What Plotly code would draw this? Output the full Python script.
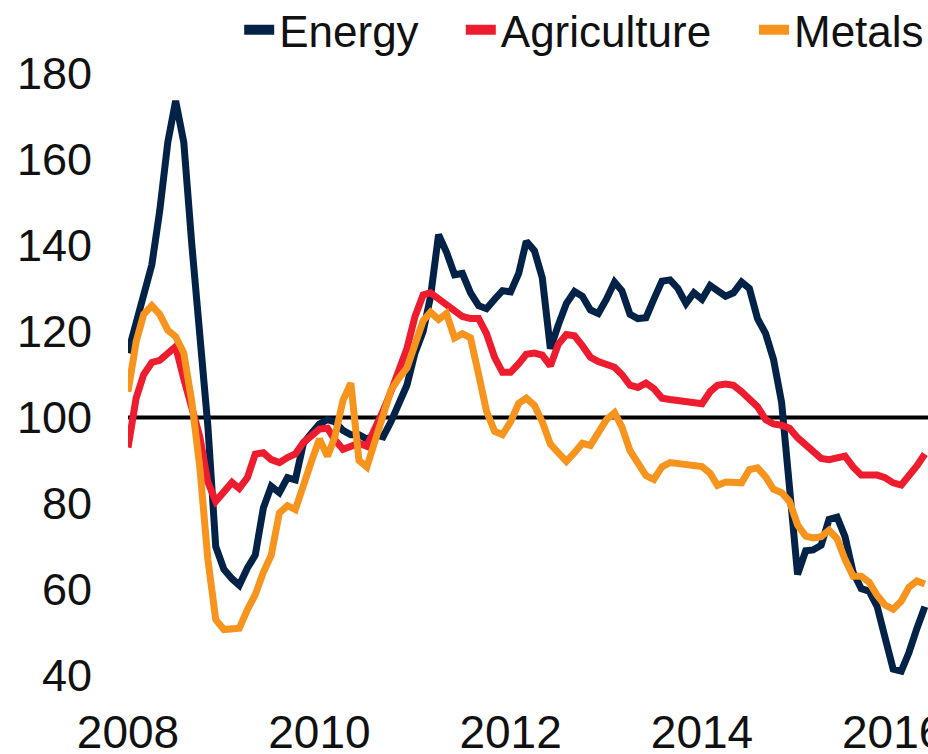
import pandas as pd
import plotly.graph_objects as go

# ---- data (monthly index, Jan 2008 = 100 baseline line) ----
start_month = "2008-01-01"
energy = [115, 122, 129.5, 135.5, 148, 164, 173.6, 164, 140, 121,
          98, 70, 64.7, 62.5, 61, 65, 68, 79, 84, 82.5,
          86, 85.5, 94, 96.3, 98.5, 99.5, 99, 97, 96, 96,
          95, 96, 95.5, 99, 103.5, 107.5, 115, 120, 128, 142.5,
          138.5, 133.2, 133.5, 129, 126, 125.3, 127.5, 129.5, 129.2, 133.5,
          141, 138.8, 132.5, 116, 121.5, 126.5, 129.3, 128.2, 125, 124.2,
          127.5, 131.5, 129.5, 124, 123, 123.2, 127.5, 131.7, 132, 130,
          126.5, 129, 127.5, 130.7, 129.5, 128.2, 129, 131.5, 130, 123,
          119.5, 113.5, 103.5, 85, 63.5, 69, 69.2, 70.3, 76.3, 76.8,
          72.3, 64, 60.2, 59.6, 56, 48.8, 41.5, 41, 45.3, 51, 56]
agriculture = [93, 104.5, 110, 112.8, 113.3, 115, 116.5, 109, 101.5, 95.6,
               85, 80.5, 82.7, 84.9, 83.5, 86, 91.5, 91.8, 90.2, 89.5,
               90.7, 91.5, 94.2, 95.5, 97.3, 97.5, 94.8, 92.6, 93.3, 94,
               93.3, 97, 101.5, 106, 111, 116, 123.5, 128.5, 129, 127.5,
               126.5, 124.5, 123.5, 123, 123, 119.5, 114, 110.5, 110.5, 112.5,
               114.7, 115, 114.5, 112, 117, 119.3, 119, 116.7, 114, 113,
               112.3, 111.7, 110, 107.5, 107, 108, 106.7, 104.5, 104.2, 104,
               104, 103.5, 103.2, 106, 107.5, 107.8, 107.5, 106, 104.3, 102.5,
               99.5, 98.5, 98.2, 97.5, 95.3, 93.5, 91.8, 90.5, 90.2, 90.5,
               91, 88.5, 86.6, 86.6, 86.6, 86, 84.8, 84.3, 86.2, 88.8, 91.5]
metals = [106, 117.6, 124, 126, 124, 120.3, 118.8, 115, 103.5, 88.6,
          67, 53, 50.7, 50.7, 51, 55.3, 58.8, 64, 68, 77.8,
          79.5, 78.6, 83.7, 89.7, 95, 91, 95.5, 104, 108, 90,
          88.5, 94.5, 100.3, 106.3, 109.2, 111.5, 117, 122.5, 124.5, 122.8,
          124.2, 118.5, 119.5, 118.5, 110, 101.5, 96.8, 96, 99, 103.3,
          104.5, 102.8, 99, 93.8, 91.8, 89.8, 91.8, 94, 93.5, 96.5,
          99.5, 101.1, 97.8, 92.3, 89.2, 86.5, 85.6, 88.5, 89.5, 89.2,
          89, 88.7, 88.6, 87, 84.2, 85, 84.8, 84.8, 87.9, 88.3,
          86.2, 83.3, 82.5, 80.5, 75, 72.4, 72, 72.3, 73.8, 71.8,
          67, 63.1, 63.1, 61.7, 58.6, 56.4, 55.4, 57.3, 60.5, 62, 61.3]
series_names = ["Energy", "Agriculture", "Metals"]
x_tick_years = [2008, 2010, 2012, 2014, 2016]
x_tick_labels = ["2008", "2010", "2012", "2014", "2016"]
y_tick_vals = [40, 60, 80, 100, 120, 140, 160, 180]
baseline = 100

dates = pd.date_range(start_month, periods=len(energy), freq="MS")

colors = ["#032247", "#ed1c2e", "#f7941d"]
legend_ids = ["legend", "legend2", "legend3"]
legend_x = [0.139, 0.416, 0.7825]
FONT = "Liberation Sans, Arial, sans-serif"

fig = go.Figure()
for name, vals, col in zip(series_names, [energy, agriculture, metals], colors):
    fig.add_trace(go.Scatter(x=dates, y=vals, mode="lines", name=name,
                             line=dict(color=col, width=7), showlegend=False))
# legend entries (chunky line keys, as in the original)
for name, col, lg in zip(series_names, colors, legend_ids):
    fig.add_trace(go.Scatter(x=[None], y=[None], mode="lines", name=name,
                             line=dict(color=col, width=12), legend=lg,
                             showlegend=True, hoverinfo="skip"))

fig.add_hline(y=baseline, line=dict(color="black", width=4), layer="below")

x_end = pd.Timestamp(start_month) + pd.Timedelta(days=3055)

leg_common = dict(orientation="h", xanchor="left", y=1.034, yanchor="middle",
                  font=dict(size=44, family=FONT, color="#111111"),
                  bgcolor="rgba(0,0,0,0)", itemwidth=30)
legends = {}
for lg, lx in zip(legend_ids, legend_x):
    legends[lg] = dict(leg_common, x=lx)

fig.update_layout(
    width=928, height=754,
    margin=dict(l=128, r=0, t=52, b=57, autoexpand=False),
    paper_bgcolor="white", plot_bgcolor="white",
    font=dict(family=FONT, color="#111111"),
    showlegend=True,
    xaxis=dict(type="date", range=[pd.Timestamp(start_month), x_end],
               tickvals=[pd.Timestamp(f"{y}-01-01") for y in x_tick_years],
               ticktext=x_tick_labels, showgrid=False, zeroline=False,
               showline=False, ticks="", tickfont=dict(size=46),
               ticklabelstandoff=4,
               ticklabeloverflow="allow", automargin=False),
    yaxis=dict(range=[35, 185], tickvals=y_tick_vals, showgrid=False,
               zeroline=False, showline=False, ticks="",
               ticklabelstandoff=35, tickfont=dict(size=45), automargin=False),
    **legends,
)

# remove the default 8px page margin so the figure fills the window exactly
fig.write_html("out.html",
               config={"displayModeBar": False},
               post_script="document.body.style.margin='0';"
                           "document.body.style.overflow='hidden';")
